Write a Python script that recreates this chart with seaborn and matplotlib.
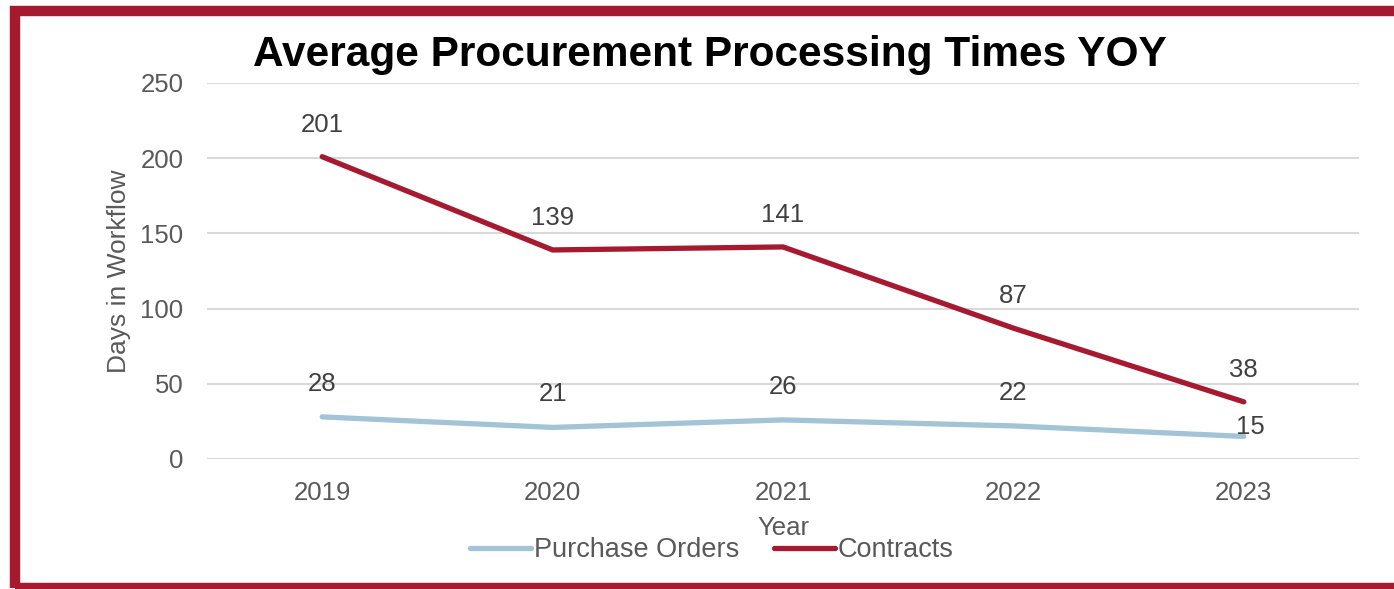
import matplotlib
matplotlib.use("Agg")
import matplotlib.pyplot as plt
import seaborn as sns
import pandas as pd
from matplotlib.patches import Rectangle

years = ["2019", "2020", "2021", "2022", "2023"]
purchase_orders = [28, 21, 26, 22, 15]
contracts = [201, 139, 141, 87, 38]
series_names = ["Purchase Orders", "Contracts"]

df = pd.DataFrame({
    "Year": years * 2,
    "Days": purchase_orders + contracts,
    "Series": [series_names[0]] * len(years) + [series_names[1]] * len(years),
})

sns.set_theme(style="white")
plt.rcParams["font.family"] = ["Liberation Sans", "DejaVu Sans"]

grey = "#595959"
label_col = "#404040"
fs = 18.5
palette = {"Purchase Orders": "#A3C4D6", "Contracts": "#A6192E"}

W, H = 1394, 589
fig = plt.figure(figsize=(W / 100, H / 100), dpi=100)
ax = fig.add_axes([207 / W, 1 - 459 / H, 1152 / W, 376 / H])

sns.lineplot(data=df, x="Year", y="Days", hue="Series", palette=palette,
             linewidth=3.8, sort=False, ax=ax, legend=True,
             solid_capstyle="round")

ax.set_xlim(-0.5, len(years) - 0.5)
ax.set_ylim(0, 250)
ax.set_yticks([0, 50, 100, 150, 200, 250])
ax.yaxis.grid(True, color="#D9D9D9", linewidth=1.5)
ax.xaxis.grid(False)
for s in ax.spines.values():
    s.set_visible(False)
ax.tick_params(axis="both", colors=grey, labelsize=fs, length=0)
ax.tick_params(axis="x", pad=16)
ax.tick_params(axis="y", pad=17)
ax.set_ylabel("Days in Workflow", color=grey, fontsize=fs + 0.5)
ax.set_xlabel("Year", color=grey, fontsize=fs)
ax.yaxis.set_label_coords(-0.066, 0.5)
ax.xaxis.set_label_coords(0.5, -0.152)

# value labels
for i, v in enumerate(contracts):
    ax.annotate(str(v), (i, v), xytext=(0, 23), textcoords="offset points",
                ha="center", va="center", fontsize=fs, color=label_col)
for i, v in enumerate(purchase_orders):
    if i == len(years) - 1:
        off = (4.5, 7)
    else:
        off = (0, 24)
    ax.annotate(str(v), (i, v), xytext=off, textcoords="offset points",
                ha="center", va="center", fontsize=fs, color=label_col)

leg = ax.legend(loc="center", bbox_to_anchor=(505 / 1152, -91 / 376),
                ncol=2, frameon=False, fontsize=19.5, handlelength=2.25,
                handletextpad=0.1, columnspacing=1.3, labelcolor=grey)
for line in leg.get_lines():
    line.set_linewidth(3.8)

fig.text(710 / W, 1 - 55 / H, "Average Procurement Processing Times YOY",
         ha="center", va="center", fontsize=30.5, fontweight="bold", color="black")

# crimson frame around the chart
fig.patches.append(Rectangle((15 / W, 1 - 588 / H), 1.1, 577 / H,
                             transform=fig.transFigure, fill=False,
                             edgecolor="#A6192E", linewidth=7.5,
                             joinstyle="miter", zorder=10))

fig.savefig("out.png", dpi=100, facecolor="white")
